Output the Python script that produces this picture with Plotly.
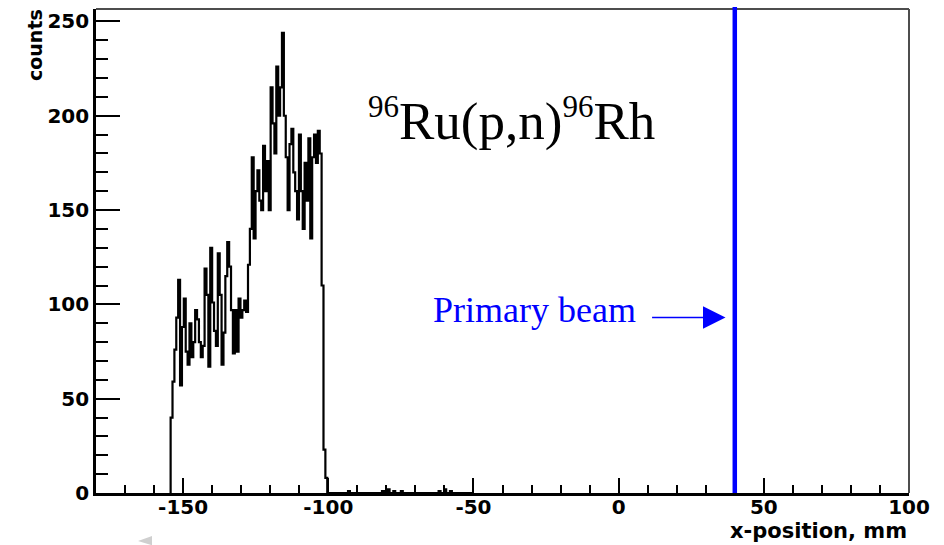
import numpy as np
import plotly.graph_objects as go

# Histogram of hit positions: fixed-width bins starting at the first filled bin
bin_start = -154.3
bin_width = 0.65
counts_main = [40, 59, 76, 93, 113, 57, 88, 103, 75, 68,
               90, 72, 80, 97, 92, 80, 72, 78, 119, 105,
               67, 130, 101, 86, 78, 127, 105, 68, 85, 115,
               133, 120, 97, 74, 97, 75, 103, 93, 97, 102,
               96, 121, 140, 178, 135, 160, 171, 155, 150, 184,
               160, 176, 150, 215, 196, 180, 226, 200, 215, 244,
               200, 178, 150, 185, 193, 170, 160, 145, 190, 160,
               140, 175, 155, 188, 135, 178, 190, 175, 192, 180,
               110, 23, 8]

# sparse background hits beyond the main peak
stray_x = [-93.0, -81.0, -79.0, -77.0, -75.0, -62.0, -60.0, -58.0]
stray_counts = [1, 1, 2, 1, 1, 1, 2, 1]

beam_x = 40.0                     # primary beam position, mm
arrow_tail = (11.0, 93.0)
arrow_tip = (36.8, 93.0)

x_range = [-180, 100]
y_range = [0, 256.6]
x_ticks = [-150, -100, -50, 0, 50, 100]
x_ticktext = ["-150", "-100", "-50", "0", "50", "100"]
y_ticks = [0, 50, 100, 150, 200, 250]

# fill a dense bin array and turn it into a step outline
n_bins = int(round((-50.0 - bin_start) / bin_width))
dense = np.zeros(n_bins)
dense[:len(counts_main)] = counts_main
for sx, sc in zip(stray_x, stray_counts):
    idx = int((sx - bin_start) / bin_width)
    dense[idx] += sc
edges = bin_start + bin_width * np.arange(n_bins + 1)

step_x = [edges[0]]
step_y = [0.0]
for i in range(n_bins):
    step_x.append(edges[i])
    step_y.append(dense[i])
step_x.append(edges[-1])
step_y.append(dense[-1])
step_x.append(edges[-1])
step_y.append(0.0)

fig = go.Figure()
fig.add_trace(go.Scatter(
    x=step_x, y=step_y, mode="lines",
    line=dict(color="black", width=2.2, shape="hv"),
    hoverinfo="skip", showlegend=False,
))

tick_font = dict(family="DejaVu Sans", size=20, color="black", weight="bold")

fig.update_layout(
    width=944, height=545,
    margin=dict(l=96, r=35, t=9, b=52),
    paper_bgcolor="white", plot_bgcolor="white",
    showlegend=False,
    xaxis=dict(
        range=x_range, tickvals=x_ticks, ticktext=x_ticktext,
        ticks="inside", ticklen=15,
        tickwidth=2, tickcolor="black", showline=True, linecolor="black",
        linewidth=2.6, showgrid=False, zeroline=False, tickfont=tick_font,
        ticklabelstandoff=-6,
        minor=dict(dtick=10, tick0=0, ticks="inside", ticklen=8,
                   tickwidth=2, tickcolor="black", showgrid=False),
    ),
    yaxis=dict(
        range=y_range, tickvals=y_ticks, ticks="inside", ticklen=24,
        tickwidth=2, tickcolor="black", showline=True, linecolor="black",
        linewidth=2.6, showgrid=False, zeroline=False, tickfont=tick_font,
        ticklabelstandoff=0,
        minor=dict(dtick=10, tick0=0, ticks="inside", ticklen=12,
                   tickwidth=2, tickcolor="black", showgrid=False),
    ),
)

# upper and right frame edges
fig.add_shape(type="line", xref="paper", yref="paper", x0=0, x1=1, y0=1, y1=1,
              line=dict(color="#4d4d4d", width=2))
fig.add_shape(type="line", xref="paper", yref="paper", x0=1, x1=1, y0=0, y1=1,
              line=dict(color="#4d4d4d", width=2))

# primary beam line
fig.add_shape(type="line", xref="x", yref="y domain", x0=beam_x, x1=beam_x,
              y0=0, y1=1.004, line=dict(color="#0000ff", width=4.5))

# faint mark below the axis
fig.add_shape(type="path", xref="paper", yref="paper",
              path="M 0.0517 -0.0990 L 0.0689 -0.0888 L 0.0689 -0.1080 Z",
              fillcolor="#cfcfcf", line=dict(width=0))

fig.add_annotation(
    x=-37.0, y=198, xref="x", yref="y", xanchor="center", yanchor="middle",
    text="<sup><span style='font-size:31px'>96</span></sup>Ru(p,n)"
         "<sup><span style='font-size:31px'>96</span></sup>Rh",
    showarrow=False,
    font=dict(family="Liberation Serif", size=53, color="black"),
)
fig.add_annotation(
    x=-28.9, y=96.8, xref="x", yref="y", xanchor="center", yanchor="middle",
    text="Primary beam", showarrow=False,
    font=dict(family="Liberation Serif", size=36, color="#0000ff"),
)
fig.add_annotation(
    x=arrow_tip[0], y=arrow_tip[1], ax=arrow_tail[0], ay=arrow_tail[1],
    xref="x", yref="y", axref="x", ayref="y", text="",
    showarrow=True, arrowhead=2, arrowsize=3, arrowwidth=1.5,
    arrowcolor="#0000ff", standoff=0,
)
fig.add_annotation(
    x=1.0, y=-0.0785, xref="paper", yref="paper", xanchor="right", yanchor="middle",
    text="x-position, mm", showarrow=False,
    font=dict(family="DejaVu Sans", size=21, color="black", weight="bold"),
)
fig.add_annotation(
    x=-0.0757, y=0.9266, xref="paper", yref="paper", xanchor="center", yanchor="middle",
    text="counts", textangle=-90, showarrow=False,
    font=dict(family="DejaVu Sans", size=19, color="black", weight="bold"),
)

fig.write_html("out.html")
